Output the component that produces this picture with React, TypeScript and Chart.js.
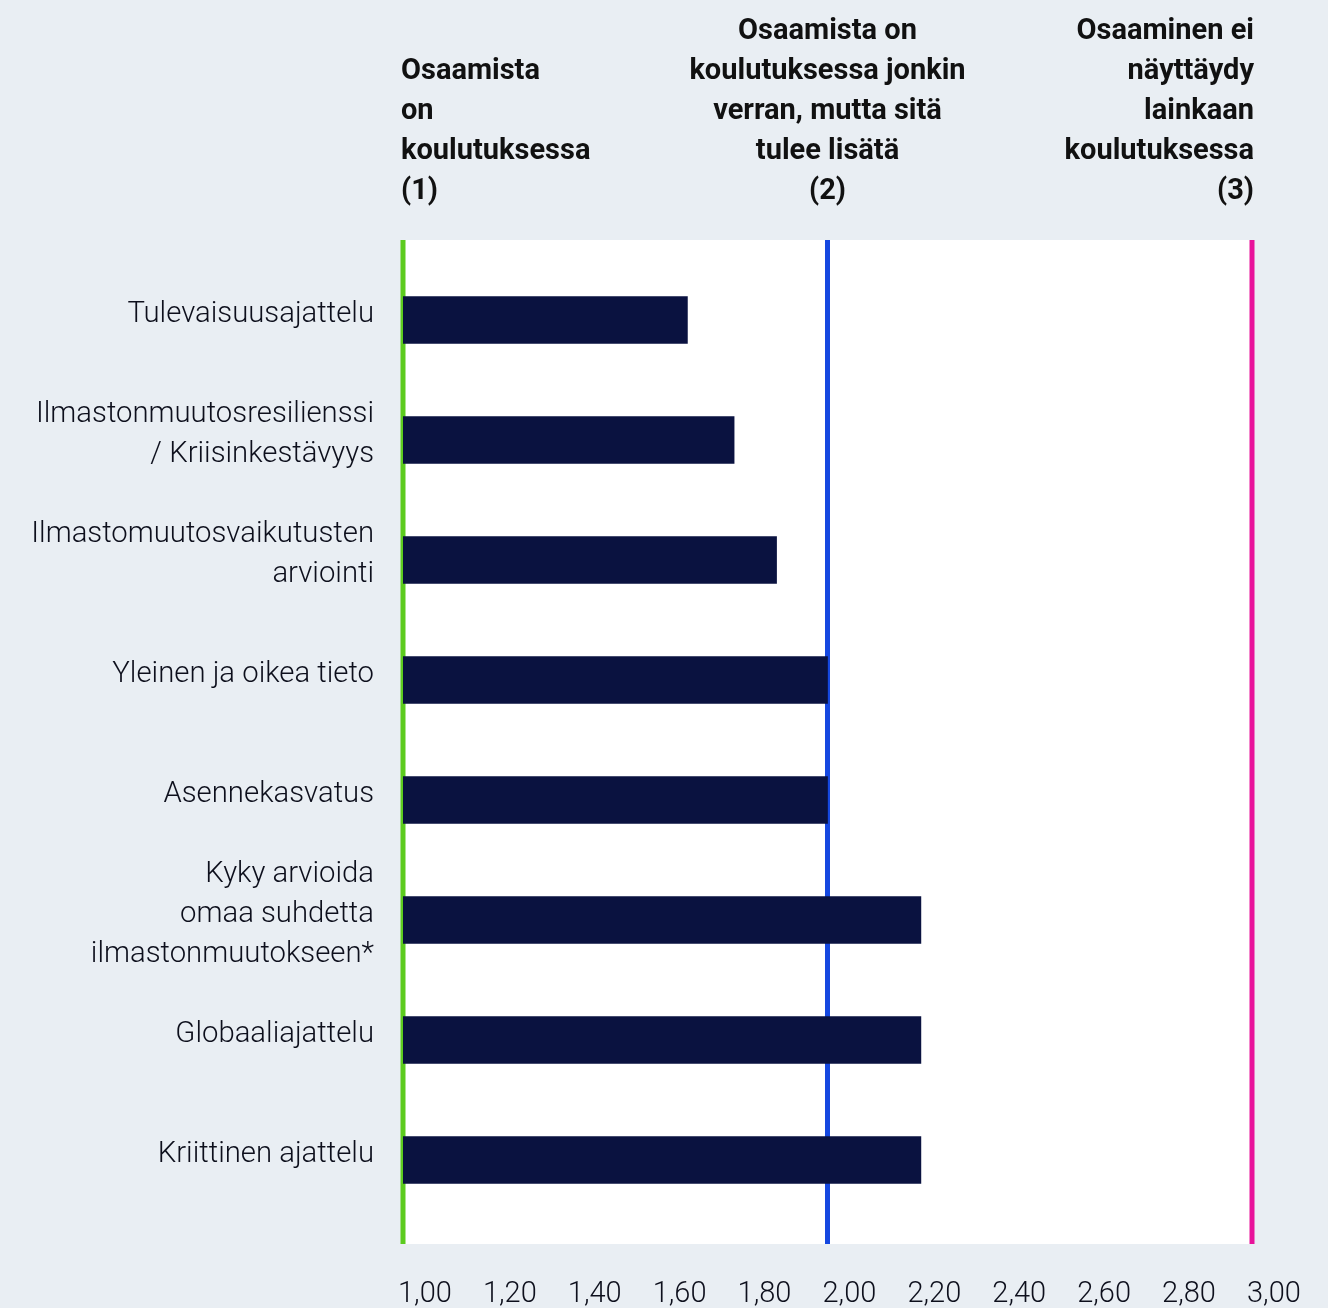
import React, { useEffect, useRef } from "react";
import { Chart, registerables } from "chart.js";

Chart.register(...registerables);

const categories: string[][] = [
  ["Tulevaisuusajattelu"],
  ["Ilmastonmuutosresilienssi", "/ Kriisinkestävyys"],
  ["Ilmastomuutosvaikutusten", "arviointi"],
  ["Yleinen ja oikea tieto"],
  ["Asennekasvatus"],
  ["Kyky arvioida", "omaa suhdetta", "ilmastonmuutokseen*"],
  ["Globaaliajattelu"],
  ["Kriittinen ajattelu"],
];
const values = [1.67, 1.78, 1.88, 2.0, 2.0, 2.22, 2.22, 2.22];

const xTicks = [1.0, 1.2, 1.4, 1.6, 1.8, 2.0, 2.2, 2.4, 2.6, 2.8, 3.0];

const refValues = [1, 2, 3];
const refColors = ["#5ccb1f", "#1548e0", "#e8129a"];

const headerCol1 = ["Osaamista", "on", "koulutuksessa", "(1)"];
const headerCol2 = ["Osaamista on", "koulutuksessa jonkin", "verran, mutta sitä", "tulee lisätä", "(2)"];
const headerCol3 = ["Osaaminen ei", "näyttäydy", "lainkaan", "koulutuksessa", "(3)"];

const BG = "#e9eef3";
const BAR = "#0a1240";
const TEXT = "#0d0f1c";
const FONT = "Roboto";

const decorPlugin = {
  id: "decor",
  beforeDatasetsDraw(chart: any) {
    const { ctx, chartArea, scales } = chart;
    const top = chartArea.top - 20;
    const bottom = chartArea.bottom + 24;
    ctx.save();
    ctx.fillStyle = "#ffffff";
    ctx.fillRect(chartArea.left - 1, top, chartArea.right - chartArea.left + 1, bottom - top);
    refValues.forEach((v, i) => {
      const x = scales.x.getPixelForValue(v);
      ctx.fillStyle = refColors[i];
      ctx.fillRect(x - 2.5, top, 5, bottom - top);
    });
    ctx.restore();
  },
  afterDraw(chart: any) {
    const { ctx, scales } = chart;
    ctx.save();
    ctx.fillStyle = "#111111";
    ctx.font = `bold 29px ${FONT}`;
    ctx.textBaseline = "alphabetic";
    const lh = 40;
    const lastBase = 199;
    const drawCol = (lines: string[], x: number, align: CanvasTextAlign) => {
      ctx.textAlign = align;
      lines.forEach((t, i) => {
        const y = lastBase - (lines.length - 1 - i) * lh;
        ctx.fillText(t, x, y);
      });
    };
    drawCol(headerCol1, scales.x.getPixelForValue(1) - 2, "left");
    drawCol(headerCol2, scales.x.getPixelForValue(2), "center");
    drawCol(headerCol3, scales.x.getPixelForValue(3) + 2, "right");
    ctx.restore();
  },
};

export default function App() {
  const ref = useRef<HTMLCanvasElement | null>(null);
  useEffect(() => {
    document.body.style.margin = "0";
    document.body.style.background = BG;
    const chart = new Chart(ref.current as HTMLCanvasElement, {
      type: "bar",
      data: {
        labels: categories,
        datasets: [
          {
            data: values,
            backgroundColor: BAR,
            borderWidth: 0,
            barThickness: 47,
          },
        ],
      },
      options: {
        indexAxis: "y",
        animation: false,
        responsive: false,
        layout: { padding: { top: 260, right: 76, bottom: 0, left: 0 } },
        plugins: { legend: { display: false }, tooltip: { enabled: false } },
        scales: {
          x: {
            type: "linear",
            min: 1,
            max: 3,
            afterBuildTicks: (scale: any) => {
              scale.ticks = xTicks.map((v) => ({ value: v }));
            },
            grid: { display: false, drawTicks: false },
            border: { display: false },
            ticks: {
              align: "start",
              padding: 57,
              labelOffset: -5,
              color: TEXT,
              font: { family: FONT, size: 29, weight: "300" },
              callback: (v: any) => Number(v).toFixed(2).replace(".", ","),
            },
            afterFit: (scale: any) => {
              scale.height = 88;
              scale.paddingRight = 0;
              scale.paddingLeft = 0;
            },
          },
          y: {
            grid: { display: false, drawTicks: false },
            border: { display: false },
            ticks: {
              autoSkip: false,
              padding: 29,
              labelOffset: -5,
              color: TEXT,
              font: { family: FONT, size: 29.3, weight: "300", lineHeight: 40 / 29.3 },
            },
            afterFit: (scale: any) => {
              scale.width = 403;
              scale.paddingTop = 0;
              scale.paddingBottom = 0;
            },
          },
        },
      },
      plugins: [decorPlugin],
    } as any);
    return () => chart.destroy();
  }, []);
  return (
    <div style={{ width: 1328, height: 1308, background: BG }}>
      <canvas ref={ref} width={1328} height={1308} style={{ display: "block" }} />
    </div>
  );
}
